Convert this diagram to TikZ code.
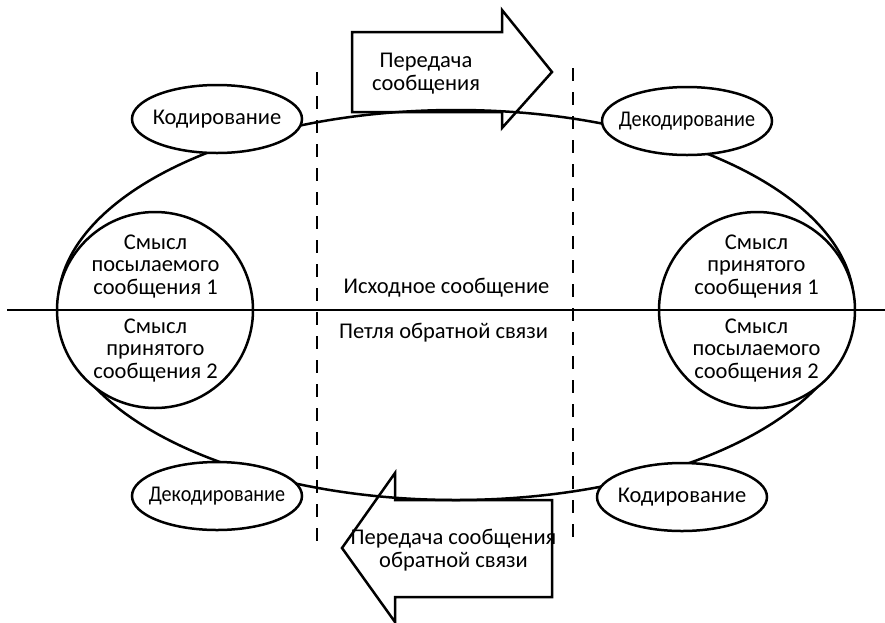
\documentclass[tikz,border=0pt]{standalone}
\usepackage{graphicx}
\usepackage{fontspec}
\setmainfont{Carlito}
\usetikzlibrary{shapes.geometric}
\begin{document}
\begin{tikzpicture}[x=1pt,y=-1pt,
  line width=2.5pt,
  txt/.style={font=\fontsize{22.5}{22.5}\selectfont, align=center, inner sep=0pt},
  smallell/.style={ellipse, draw, fill=white, inner sep=0pt, minimum width=170pt, minimum height=68pt, font=\fontsize{22.5}{22.5}\selectfont},
  bigcirc/.style={circle, draw, fill=white, inner sep=0pt, minimum size=196pt},
  divider/.style={dash pattern=on 13pt off 11pt},
  bigarrow/.style={draw, line join=miter}
]
\useasboundingbox (0,0) rectangle (885,622);
% feedback loop
\node[ellipse, draw, inner sep=0pt, minimum width=796pt, minimum height=390pt] (loop) at (456,305) {};
% transmission arrows
\draw[bigarrow] (352,32) -- (502,32) -- (502,10) -- (552,72) -- (502,128) -- (502,112) -- (352,112) -- cycle;
\draw[bigarrow] (552,500) -- (395,500) -- (395,473) -- (342,548) -- (395,622) -- (395,597) -- (552,597) -- cycle;
% dashed dividers
\coordinate (d1t) at (317,72);
\coordinate (d1b) at (317,548);
\coordinate (d2t) at (573,68);
\coordinate (d2b) at (573,545);
\draw[divider] (d1t) -- (d1b);
\draw[divider] (d2t) -- (d2b);
% circles
\node[bigcirc] (cl) at (155,310) {};
\node[bigcirc] (cr) at (757,310) {};
% small ellipses (text in zero-width box so the ellipse keeps its size)
\node[smallell] (enc1) at (217,119) {\makebox[0pt]{Кодирование}};
\node[smallell] (dec1) at (687,121) {\makebox[0pt]{\scalebox{0.895}[1]{Декодирование}}};
\node[smallell] (dec2) at (217,496) {\makebox[0pt]{\scalebox{0.895}[1]{Декодирование}}};
\node[smallell] (enc2) at (682,497) {\makebox[0pt]{Кодирование}};
% horizontal line
\coordinate (hl) at (7,310);
\coordinate (hr) at (885,310);
\draw (hl) -- (hr);
% texts (base anchor = baseline of last line)
\node[txt, anchor=base] (tl1) at (155.5,294) {Смысл\\посылаемого\\сообщения 1};
\node[txt, anchor=base] (tl2) at (155.5,378) {Смысл\\принятого\\сообщения 2};
\node[txt, anchor=base] (tr1) at (756.5,294) {Смысл\\принятого\\сообщения 1};
\node[txt, anchor=base] (tr2) at (756.5,378) {Смысл\\посылаемого\\сообщения 2};
\node[txt, anchor=base] (m1) at (446.5,293) {Исходное сообщение};
\node[txt, anchor=base] (m2) at (443.5,338) {Петля обратной связи};
\node[txt, anchor=base] (a1) at (426,90) {Передача\\сообщения};
\node[txt, anchor=base] (a2) at (453.5,567) {Передача сообщения\\обратной связи};
\end{tikzpicture}
\end{document}
